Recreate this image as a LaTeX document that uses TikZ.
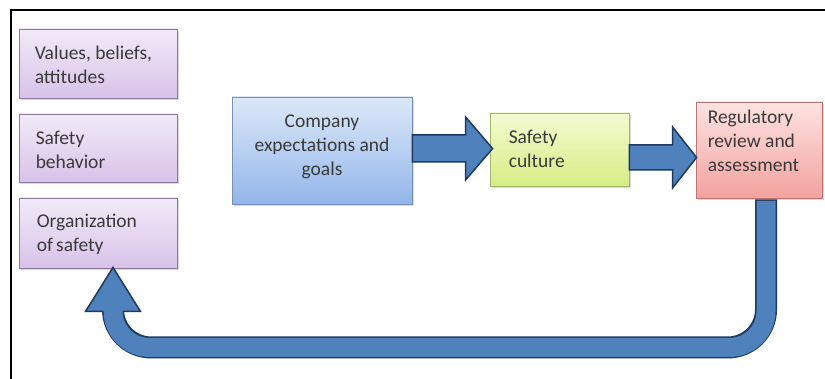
\documentclass[tikz,border=0pt]{standalone}
\usepackage{fontspec}
\setmainfont{Carlito}
\usetikzlibrary{calc,shadows}
\definecolor{txtc}{HTML}{3A3A3A}
\definecolor{arrfill}{HTML}{4F81BD}
\definecolor{arrline}{HTML}{1F3A60}
\definecolor{ptop}{HTML}{F1EAF8}
\definecolor{pbot}{HTML}{D8C2E8}
\definecolor{pdraw}{HTML}{8B7A9C}
\definecolor{btop}{HTML}{DDE8F8}
\definecolor{bbot}{HTML}{92B6EA}
\definecolor{bdraw}{HTML}{7890B5}
\definecolor{gtop}{HTML}{F4FAD2}
\definecolor{gbot}{HTML}{D6ED84}
\definecolor{gdraw}{HTML}{A0B66A}
\definecolor{rtop}{HTML}{FDE3E2}
\definecolor{rbot}{HTML}{F2A29E}
\definecolor{rdraw}{HTML}{BC7471}
\tikzset{
  box/.style={draw, line width=0.9pt, rectangle, inner sep=0pt,
    drop shadow={shadow xshift=1.5pt, shadow yshift=-2pt, opacity=0.3}},
  pbox/.style={box, draw=pdraw, top color=ptop, bottom color=pbot, minimum width=158pt},
  bbox/.style={box, draw=bdraw, top color=btop, bottom color=bbot},
  gbox/.style={box, draw=gdraw, top color=gtop, bottom color=gbot},
  rbox/.style={box, draw=rdraw, top color=rtop, bottom color=rbot},
  txt/.style={text=txtc, font=\fontsize{19.5}{24}\selectfont, inner sep=0pt},
  fat/.style={fill=arrfill, draw=arrline, line width=1.5pt, line join=miter},
}
\begin{document}
\begin{tikzpicture}[x=1pt,y=-1pt]
\useasboundingbox (0,0) rectangle (825,379);
\fill[white] (0,0) rectangle (825,379);
% frame
\draw[line width=2.6pt] (11,379) -- (11,10) -- (825,10);
% boxes
\node[pbox, minimum height=69pt] (vbox) at (98,63.5) {};
\node[pbox, minimum height=68pt] (sbox) at (98,148) {};
\node[pbox, minimum height=70pt] (obox) at (98,233) {};
\node[bbox, minimum width=180pt, minimum height=107pt] (comp) at (322,150.5) {};
\node[gbox, minimum width=139pt, minimum height=73pt] (cult) at (559.5,149.5) {};
\node[rbox, minimum width=126pt, minimum height=96pt] (reg) at (759,150) {};
% texts
\node[txt, anchor=west, align=left] (vtxt) at ($(vbox.west)+(16,1)$) {Values, beliefs,\\attitudes};
\node[txt, anchor=west, align=left] (stxt) at ($(sbox.west)+(17,2)$) {Safety\\behavior};
\node[txt, anchor=west, align=left] (otxt) at ($(obox.west)+(18,1)$) {Organization\\of\,safety};
\node[txt, align=center] (ctxt) at ($(comp.center)+(0,-4)$) {Company\\expectations and\\goals};
\node[txt, anchor=west, align=left] (gtxt) at ($(cult.west)+(19,-1)$) {Safety\\culture};
\node[txt, anchor=west, align=left] (rtxt) at ($(reg.west)+(12,-9)$) {Regulatory\\review and\\assessment};
% arrow 1
\coordinate (a1t) at ($(cult.west)+(3,-1)$);
\coordinate (a1s) at (comp.east |- a1t);
\draw[fat] ($(a1s)+(0,-13.5)$) -- ($(a1t)+(-27,-13.5)$) -- ($(a1t)+(-27,-31.5)$)
  -- (a1t) -- ($(a1t)+(-27,31.5)$) -- ($(a1t)+(-27,13.5)$) -- ($(a1s)+(0,13.5)$) -- cycle;
% arrow 2
\coordinate (a2t) at ($(reg.west)+(1,7.5)$);
\coordinate (a2s) at (cult.east |- a2t);
\draw[fat] ($(a2s)+(0,-12.5)$) -- ($(a2t)+(-24,-12.5)$) -- ($(a2t)+(-24,-30.5)$)
  -- (a2t) -- ($(a2t)+(-24,30.5)$) -- ($(a2t)+(-24,12.5)$) -- ($(a2s)+(0,12.5)$) -- cycle;
% return arrow
\coordinate (u0) at ($(reg.south)+(7,1)$);
\coordinate (ut) at ($(obox.south)+(15,-1)$);
\coordinate (u1) at ($(u0)+(0,148)$);
\coordinate (u2) at (ut |- u1);
\coordinate (ub) at ($(ut)+(0,44)$);
\draw[arrline, line width=22pt, rounded corners=38pt] (u0) -- (u1) -- (u2) -- (ub);
\draw[fat] (ut) -- ($(ub)+(27.5,0)$) -- ($(ub)+(-27.5,0)$) -- cycle;
\draw[arrfill, line width=19pt, rounded corners=36.5pt] ($(u0)+(0,1.5)$) -- (u1) -- (u2) -- ($(ub)+(0,-3)$);
\end{tikzpicture}
\end{document}
